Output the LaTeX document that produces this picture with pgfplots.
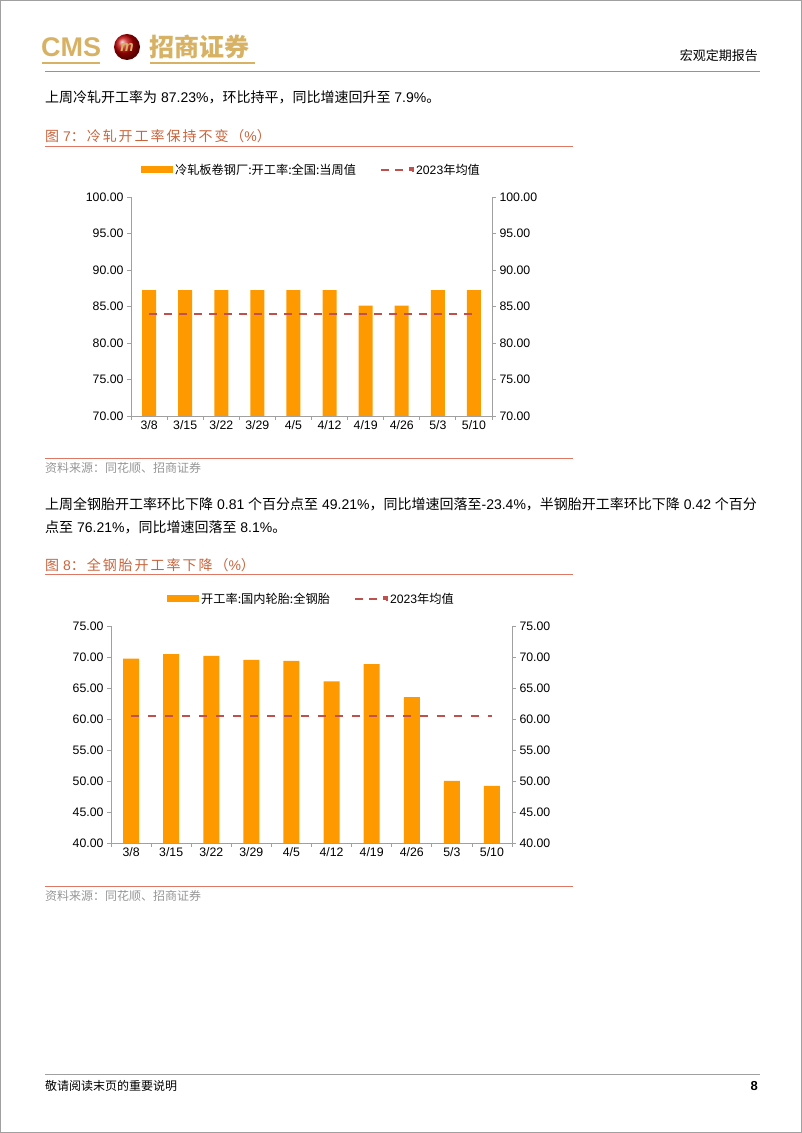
\documentclass[border=0pt]{standalone}
\usepackage{fontspec}
\setmainfont{Liberation Sans}
\newfontfamily\cjk{Noto Sans CJK SC}
\newfontfamily\cjkwide[LetterSpace=14]{Noto Sans CJK SC}
\usepackage{pgfplots}
\pgfplotsset{compat=1.18}
\definecolor{barorange}{RGB}{255,153,0}
\definecolor{meanred}{RGB}{192,80,77}
\definecolor{titlecol}{RGB}{200,100,60}
\definecolor{rulered}{RGB}{222,120,100}
\definecolor{gold}{RGB}{216,178,100}
\definecolor{axisgray}{RGB}{160,160,160}
\definecolor{srcgray}{RGB}{150,150,150}
\pgfplotsset{
  pagechart/.style={
    scale only axis,
    axis x line*=bottom, axis y line*=left,
    axis line style={axisgray, line width=0.8pt},
    tick style={axisgray, line width=0.8pt},
    tick align=outside, major tick length=4pt,
    xmin=-0.5, xmax=9.5,
    xtick={-0.5,0.5,...,9.5}, xticklabels={},
    extra x ticks={0,1,2,3,4,5,6,7,8,9},
    extra x tick labels={3/8,3/15,3/22,3/29,4/5,4/12,4/19,4/26,5/3,5/10},
    extra x tick style={major tick length=0pt},
    xticklabel style={font=\fontsize{12.3}{12}\selectfont, yshift=-1pt},
    yticklabel style={font=\fontsize{12.3}{12}\selectfont},
    /pgf/number format/.cd, fixed, fixed zerofill, precision=2, assume math mode=true
  },
  rightaxis/.style={
    scale only axis,
    axis x line=none, axis y line*=right,
    axis line style={axisgray, line width=0.8pt},
    tick style={axisgray, line width=0.8pt},
    tick align=outside, major tick length=4pt,
    xmin=-0.5, xmax=9.5,
    yticklabel style={font=\fontsize{12.3}{12}\selectfont},
    /pgf/number format/.cd, fixed, fixed zerofill, precision=2, assume math mode=true
  },
  barlegend/.style={legend image code/.code={\fill[barorange] (0pt,-3.5pt) rectangle (32pt,3.5pt);}},
  meanlegend/.style={legend image code/.code={\draw[meanred, line width=2.6pt, dash pattern=on 8pt off 6pt] (0pt,0pt) -- (22pt,0pt); \fill[meanred] (29pt,-1.2pt) rectangle (31.5pt,1.2pt);}}
}
\begin{document}
\begin{tikzpicture}[x=1pt,y=1pt]
\path[use as bounding box] (0,0) rectangle (802,1133);
\draw[axisgray, line width=1pt] (0.5,0.5) rectangle (801.5,1132.5);
% header logo
\node[anchor=west, inner sep=0, text=gold] at (41,1133-47) {\fontsize{27}{27}\selectfont\bfseries CMS};
\shade[ball color=red!75!black] (127,1133-47) circle (13);
\node[inner sep=0, text=gold] at (127,1133-47) {\fontsize{15}{15}\selectfont\bfseries\itshape m};
\node[anchor=west, inner sep=0, text=gold] at (149,1133-47) {\fontsize{25}{25}\selectfont\cjk\bfseries 招商证券};
\draw[gold, line width=1.2pt] (42,1133-63) -- (100,1133-63);
\draw[gold, line width=1.2pt] (150,1133-63) -- (255,1133-63);
\node[anchor=east, inner sep=0] at (758,1133-56) {\fontsize{13}{13}\selectfont\cjk 宏观定期报告};
\draw[rulered, line width=1pt] (45,1133-72) -- (760,1133-72);
% paragraph 1
\node[anchor=west, inner sep=0] at (45,1133-97) {\fontsize{14}{14}\selectfont{\cjk 上周冷轧开工率为} 87.23\%{\cjk ，环比持平，同比增速回升至} 7.9\%{\cjk 。}};
% figure 7 title
\node[anchor=west, inner sep=0, text=titlecol] at (45,1133-136) {\fontsize{14}{14}\selectfont{\cjkwide 图} 7{\cjkwide ：冷轧开工率保持不变（}\%{\cjkwide ）}};
\draw[rulered, line width=1pt] (45,1133-147) -- (573,1133-147);
% chart 1
\begin{axis}[pagechart, at={(131pt,717pt)}, anchor=south west, width=361pt, height=219pt,
  ymin=70, ymax=100, ytick={70,75,...,100},
  legend style={at={(0.5,1)}, anchor=south, yshift=17pt, draw=none, fill=none, legend columns=2,
    font=\fontsize{12.2}{12}\selectfont, /tikz/every even column/.append style={column sep=22pt}},
  legend cell align=left]
\addplot[ybar, bar width=14pt, fill=barorange, draw=none, barlegend] coordinates {
(0,87.23) (1,87.23) (2,87.23) (3,87.23) (4,87.23) (5,87.23) (6,85.13) (7,85.13) (8,87.23) (9,87.23)};
\addlegendentry{\cjk 冷轧板卷钢厂:开工率:全国:当周值}
\addplot[meanred, line width=2.6pt, dash pattern=on 8pt off 7pt, meanlegend] coordinates {(0,83.97) (9,83.97)};
\addlegendentry{2023{\cjk 年均值}}
\end{axis}
\begin{axis}[rightaxis, at={(131pt,717pt)}, anchor=south west, width=361pt, height=219pt,
  ymin=70, ymax=100, ytick={70,75,...,100}]
\addplot[draw=none] coordinates {(0,70) (9,70)};
\end{axis}
\draw[rulered, line width=1pt] (45,1133-459) -- (573,1133-459);
\node[anchor=west, inner sep=0, text=srcgray] at (45,1133-468) {\fontsize{12}{12}\selectfont\cjk 资料来源：同花顺、招商证券};
% paragraph 2
\node[anchor=west, inner sep=0] at (45,1133-504) {\fontsize{14}{14}\selectfont{\cjk 上周全钢胎开工率环比下降} 0.81 {\cjk 个百分点至} 49.21\%{\cjk ，同比增速回落至}-23.4\%{\cjk ，半钢胎开工率环比下降} 0.42 {\cjk 个百分}};
\node[anchor=west, inner sep=0] at (45,1133-527) {\fontsize{14}{14}\selectfont{\cjk 点至} 76.21\%{\cjk ，同比增速回落至} 8.1\%{\cjk 。}};
% figure 8 title
\node[anchor=west, inner sep=0, text=titlecol] at (45,1133-565) {\fontsize{14}{14}\selectfont{\cjkwide 图} 8{\cjkwide ：全钢胎开工率下降（}\%{\cjkwide ）}};
\draw[rulered, line width=1pt] (45,1133-575) -- (573,1133-575);
% chart 2
\begin{axis}[pagechart, at={(111pt,290pt)}, anchor=south west, width=401pt, height=217pt,
  ymin=40, ymax=75, ytick={40,45,...,75},
  legend style={at={(0.5,1)}, anchor=south, yshift=17pt, draw=none, fill=none, legend columns=2,
    font=\fontsize{12.2}{12}\selectfont, /tikz/every even column/.append style={column sep=22pt}},
  legend cell align=left]
\addplot[ybar, bar width=16pt, fill=barorange, draw=none, barlegend] coordinates {
(0,69.75) (1,70.45) (2,70.18) (3,69.53) (4,69.37) (5,66.05) (6,68.84) (7,63.53) (8,50.02) (9,49.21)};
\addlegendentry{\cjk 开工率:国内轮胎:全钢胎}
\addplot[meanred, line width=2.6pt, dash pattern=on 8pt off 9pt, meanlegend] coordinates {(0,60.48) (9,60.48)};
\addlegendentry{2023{\cjk 年均值}}
\end{axis}
\begin{axis}[rightaxis, at={(111pt,290pt)}, anchor=south west, width=401pt, height=217pt,
  ymin=40, ymax=75, ytick={40,45,...,75}]
\addplot[draw=none] coordinates {(0,40) (9,40)};
\end{axis}
\draw[rulered, line width=1pt] (45,1133-887) -- (573,1133-887);
\node[anchor=west, inner sep=0, text=srcgray] at (45,1133-896) {\fontsize{12}{12}\selectfont\cjk 资料来源：同花顺、招商证券};
% footer
\draw[axisgray, line width=1pt] (45,1133-1075) -- (760,1133-1075);
\node[anchor=west, inner sep=0] at (45,1133-1086) {\fontsize{12}{12}\selectfont\cjk 敬请阅读末页的重要说明};
\node[anchor=east, inner sep=0] at (758,1133-1086) {\fontsize{13}{13}\selectfont\bfseries 8};
\end{tikzpicture}
\end{document}
